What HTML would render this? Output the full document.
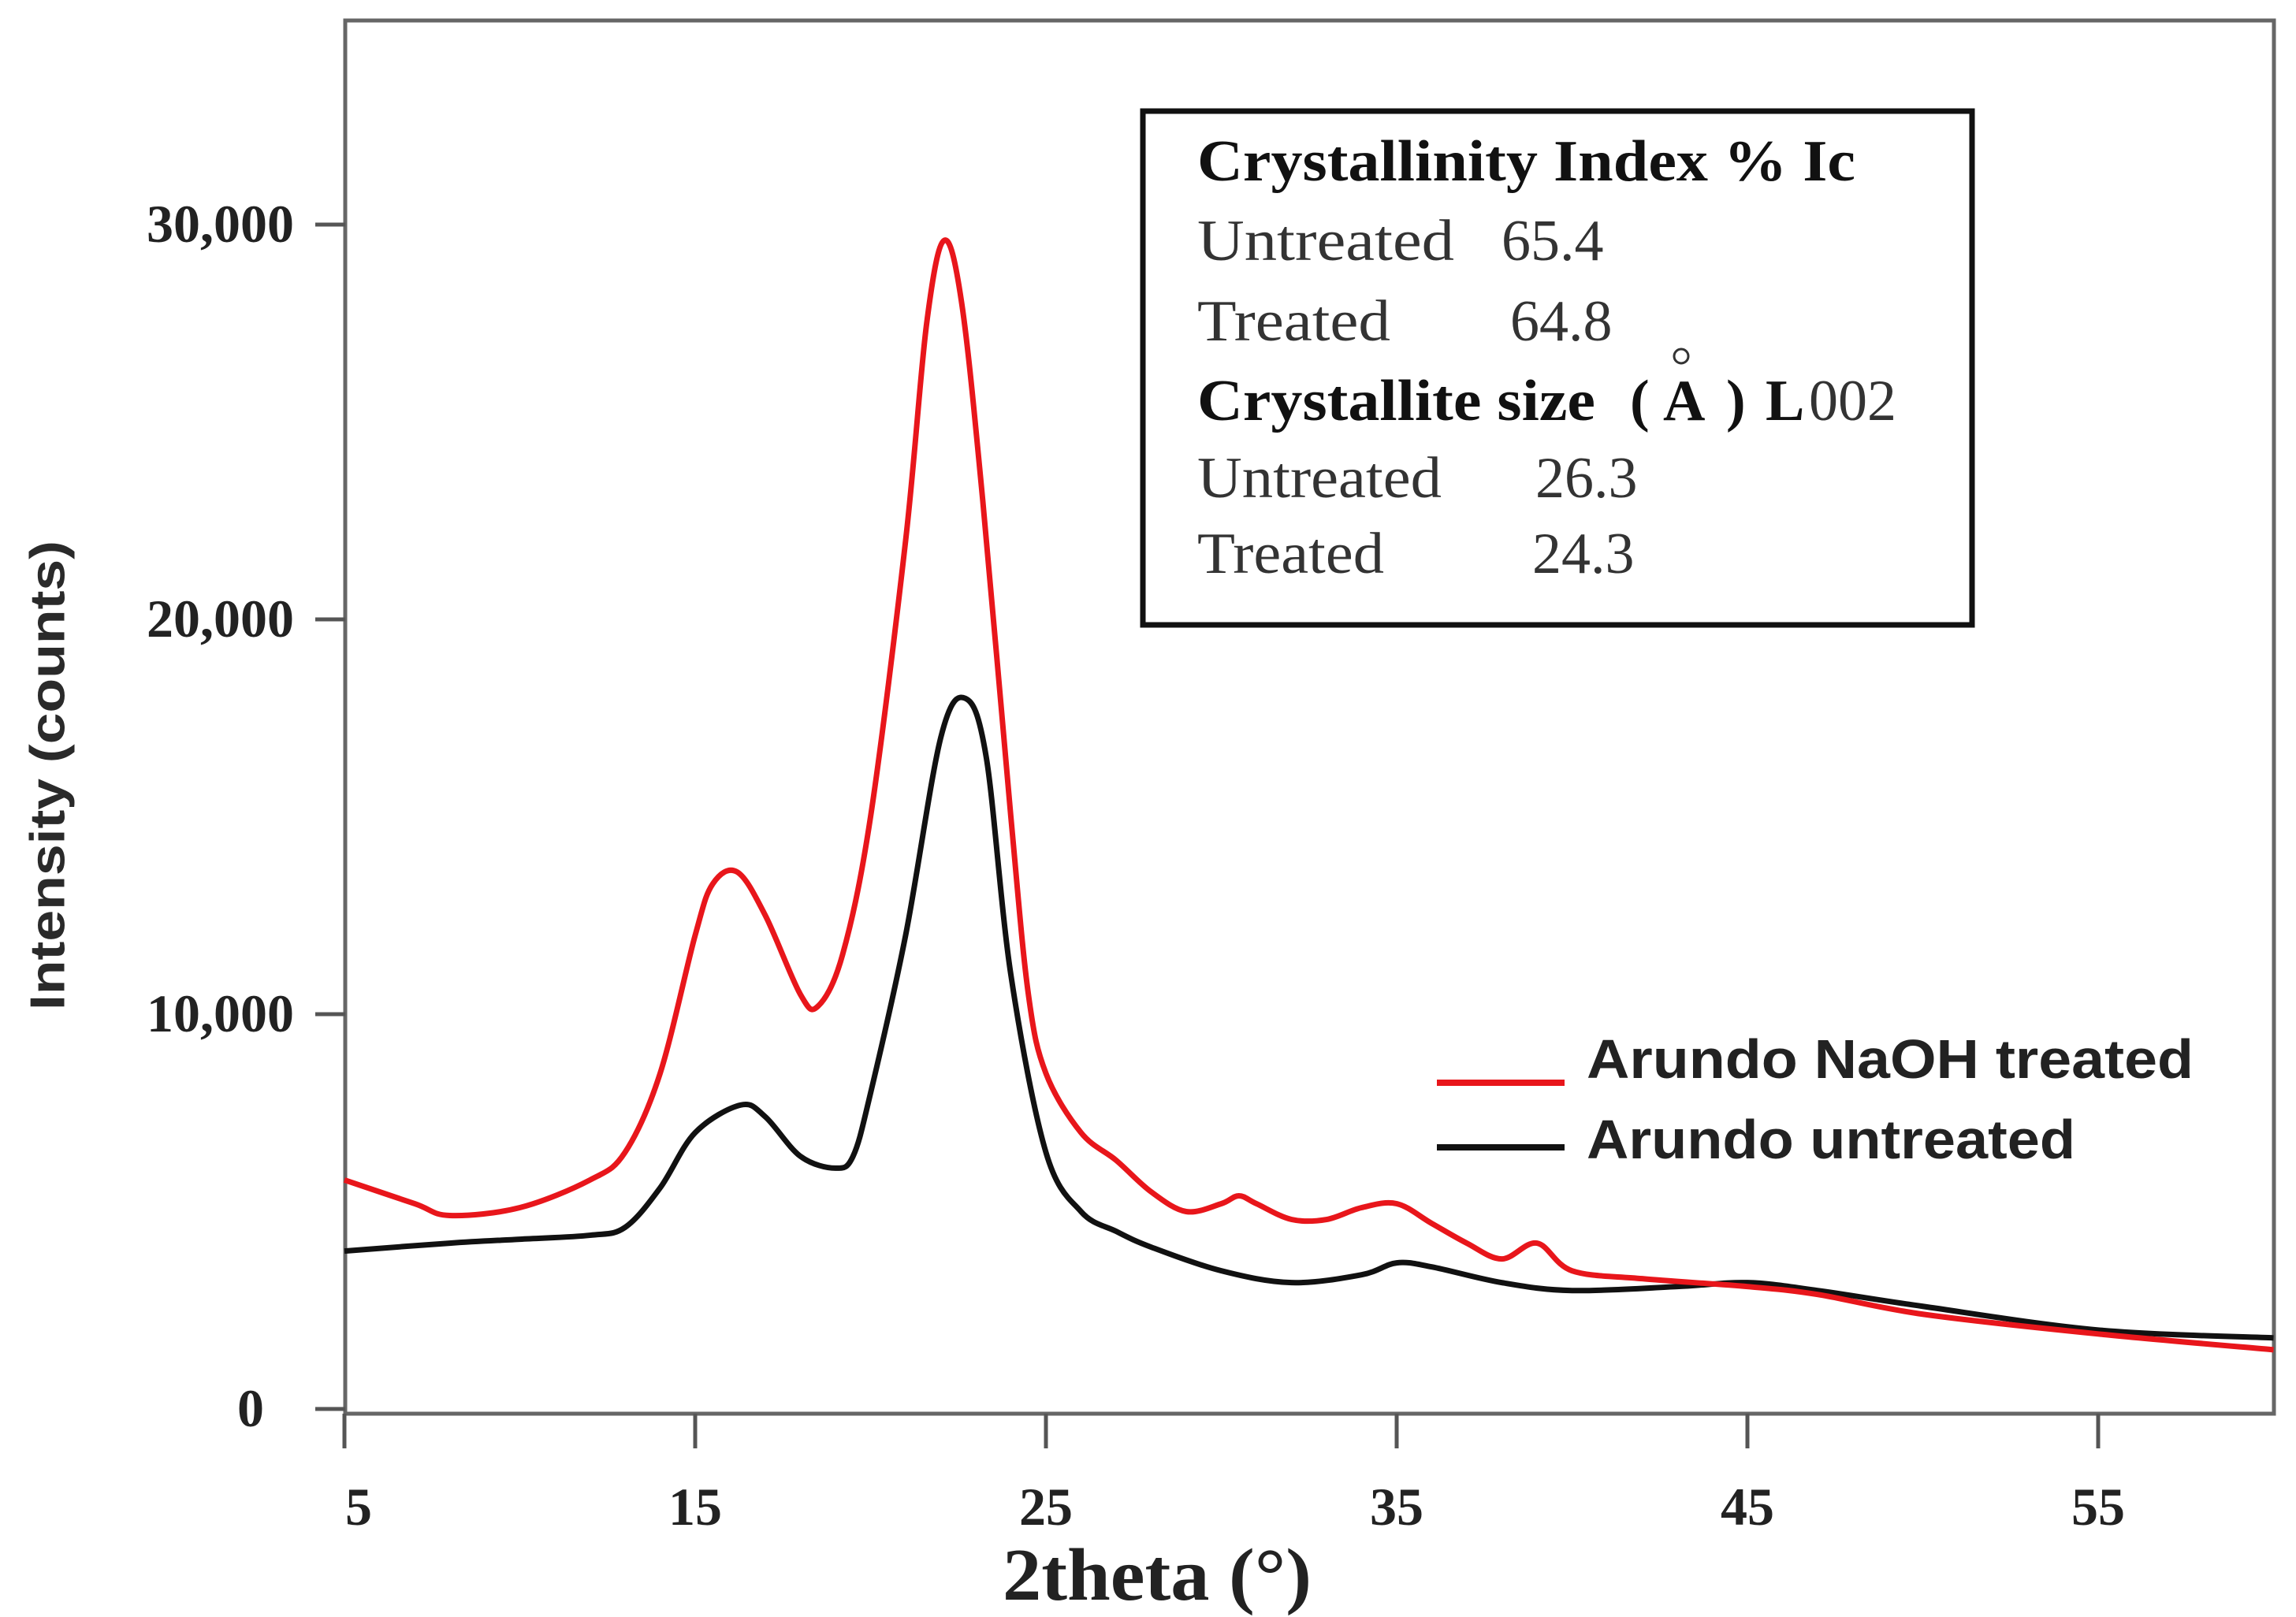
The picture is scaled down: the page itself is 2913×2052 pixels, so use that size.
<!DOCTYPE html>
<html><head><meta charset="utf-8"><style>
html,body{margin:0;padding:0;background:#fff}
svg{display:block}
.tk{font-family:"Liberation Serif",serif;font-weight:bold;font-size:68px;fill:#222}
.bx{font-family:"Liberation Serif",serif;font-size:74px;fill:#333}
.bxb{font-family:"Liberation Serif",serif;font-size:74px;font-weight:bold;fill:#111}
.lg{font-family:"Liberation Sans",sans-serif;font-size:70px;font-weight:bold;fill:#222}
</style></head><body>
<svg id="chart" width="2913" height="2052" viewBox="0 0 2913 2052" xmlns="http://www.w3.org/2000/svg">
<rect x="0" y="0" width="2913" height="2052" fill="#fff"/>
<rect x="438" y="26" width="2447" height="1768" fill="none" stroke="#666" stroke-width="5"/>
<g id="axes"></g>
<g id="series"></g>
<g>
<rect x="1450" y="141" width="1052" height="652" fill="#fff" stroke="#111" stroke-width="7"/>
<text class="bxb" x="1519" y="229" textLength="835" lengthAdjust="spacingAndGlyphs">Crystallinity Index %  Ic</text>
<text class="bx" x="1519" y="330" textLength="326" lengthAdjust="spacingAndGlyphs">Untreated</text><text class="bx" x="1905" y="330">65.4</text>
<text class="bx" x="1519" y="432" textLength="245" lengthAdjust="spacingAndGlyphs">Treated</text><text class="bx" x="1916" y="432">64.8</text>
<circle cx="2133" cy="452" r="9" fill="none" stroke="#333" stroke-width="3"/>
<text class="bxb" x="1519" y="533" textLength="505" lengthAdjust="spacingAndGlyphs">Crystallite size</text>
<text class="bxb" x="2068" y="533">(</text>
<text class="bxb" x="2110" y="533">A</text>
<text class="bxb" x="2190" y="533">)</text>
<text class="bxb" x="2240" y="533">L</text>
<text class="bx" x="2295" y="533" font-size="56">002</text>
<text class="bx" x="1519" y="631" textLength="310" lengthAdjust="spacingAndGlyphs">Untreated</text><text class="bx" x="1948" y="631">26.3</text>
<text class="bx" x="1519" y="727" textLength="237" lengthAdjust="spacingAndGlyphs">Treated</text><text class="bx" x="1944" y="727">24.3</text>
</g>
<g>
<line x1="1823" y1="1374" x2="1985" y2="1374" stroke="#e8161b" stroke-width="8"/>
<text class="lg" x="2013" y="1368" textLength="770" lengthAdjust="spacingAndGlyphs">Arundo NaOH treated</text>
<line x1="1823" y1="1456" x2="1985" y2="1456" stroke="#111" stroke-width="8"/>
<text class="lg" x="2013" y="1470" textLength="620" lengthAdjust="spacingAndGlyphs">Arundo untreated</text>
</g>
<text x="65" y="984" transform="rotate(-90 65 984)" text-anchor="middle" dominant-baseline="middle" font-family="Liberation Sans,sans-serif" font-weight="bold" font-size="62" fill="#2a2a2a" textLength="596" lengthAdjust="spacingAndGlyphs">Intensity (counts)</text>
<text x="1468" y="2030" text-anchor="middle" font-family="Liberation Serif,serif" font-weight="bold" font-size="94" fill="#222" textLength="392" lengthAdjust="spacingAndGlyphs">2theta (°)</text>
</svg>
<script>
const xTicks=[5,15,25,35,45,55];
const yTicks=[0,10000,20000,30000];
const yTickLabels=["0","10,000","20,000","30,000"];
const treatedX=[5,7,8,10,12,13,14,15,15.5,16.2,17,18,18.5,19.2,20,21,21.6,22.1,22.6,23.2,24,24.5,25,26,27,28,29,30,30.5,31,32,33,34,35,36,37,38,39,40,42,45,47,50,55,60];
const treatedY=[5800,5200,4900,5100,5800,6500,8500,12000,13300,13600,12500,10500,10200,11500,15000,22000,27500,29600,28000,23000,15000,10500,8500,7000,6300,5500,5000,5200,5400,5200,4800,4800,5100,5200,4700,4200,3800,4200,3500,3300,3100,2900,2400,1900,1500];
const untreatedX=[5,8,10,12,13,14,15,16.3,17,18,19,19.5,20,21,22,22.7,23.3,24,25,26,27,28,30,32,34,35,36,38,40,43,45,47,50,55,60];
const untreatedY=[4000,4200,4300,4400,4600,5600,7000,7700,7400,6400,6100,6400,8000,12000,17000,18000,16500,11000,6500,5000,4500,4100,3500,3200,3400,3700,3600,3200,3000,3100,3200,3000,2600,2000,1800];
const NS="http://www.w3.org/2000/svg";
function xs(v){return 437+(v-5)*44.5;}
function ys(v){return 1788-v*0.0501;}
const axes=document.getElementById('axes');
function mk(tag,attrs,parent){const e=document.createElementNS(NS,tag);for(const k in attrs)e.setAttribute(k,attrs[k]);parent.appendChild(e);return e;}
xTicks.forEach((t,i)=>{
  const l=mk('line',{x1:xs(t),x2:xs(t),y1:1794,y2:1838,stroke:'#555','stroke-width':5},axes);
  
  
  const tx=mk('text',{x:xs(t)+(i===0?18:0),y:1935,'text-anchor':'middle',class:'tk'},axes);
  tx.textContent=String(t);
  
  
});
yTicks.forEach((t,i)=>{
  const l=mk('line',{x1:400,x2:438,y1:ys(t),y2:ys(t),stroke:'#555','stroke-width':5},axes);
  
  
  const tx=mk('text',{x:i===0?335:373,y:ys(t)+22,'text-anchor':'end',class:'tk'},axes);
  tx.textContent=yTickLabels[i];
  
  
});
function pathFor(X,Y){
  const p=X.map((x,i)=>[xs(x),ys(Y[i])]);
  let d='M'+p[0][0]+','+p[0][1];
  for(let i=0;i<p.length-1;i++){
    const p0=p[i-1]||p[i],p1=p[i],p2=p[i+1],p3=p[i+2]||p2;
    const c1=[p1[0]+(p2[0]-p0[0])/6,p1[1]+(p2[1]-p0[1])/6];
    const c2=[p2[0]-(p3[0]-p1[0])/6,p2[1]-(p3[1]-p1[1])/6];
    d+=' C'+c1[0]+','+c1[1]+' '+c2[0]+','+c2[1]+' '+p2[0]+','+p2[1];
  }
  return d;
}
const sg=document.getElementById('series');
const pu=mk('path',{d:pathFor(untreatedX,untreatedY),fill:'none',stroke:'#111','stroke-width':7,'stroke-linejoin':'round'},sg);


const pt=mk('path',{d:pathFor(treatedX,treatedY),fill:'none',stroke:'#e8161b','stroke-width':7,'stroke-linejoin':'round'},sg);


</script>
</body></html>
